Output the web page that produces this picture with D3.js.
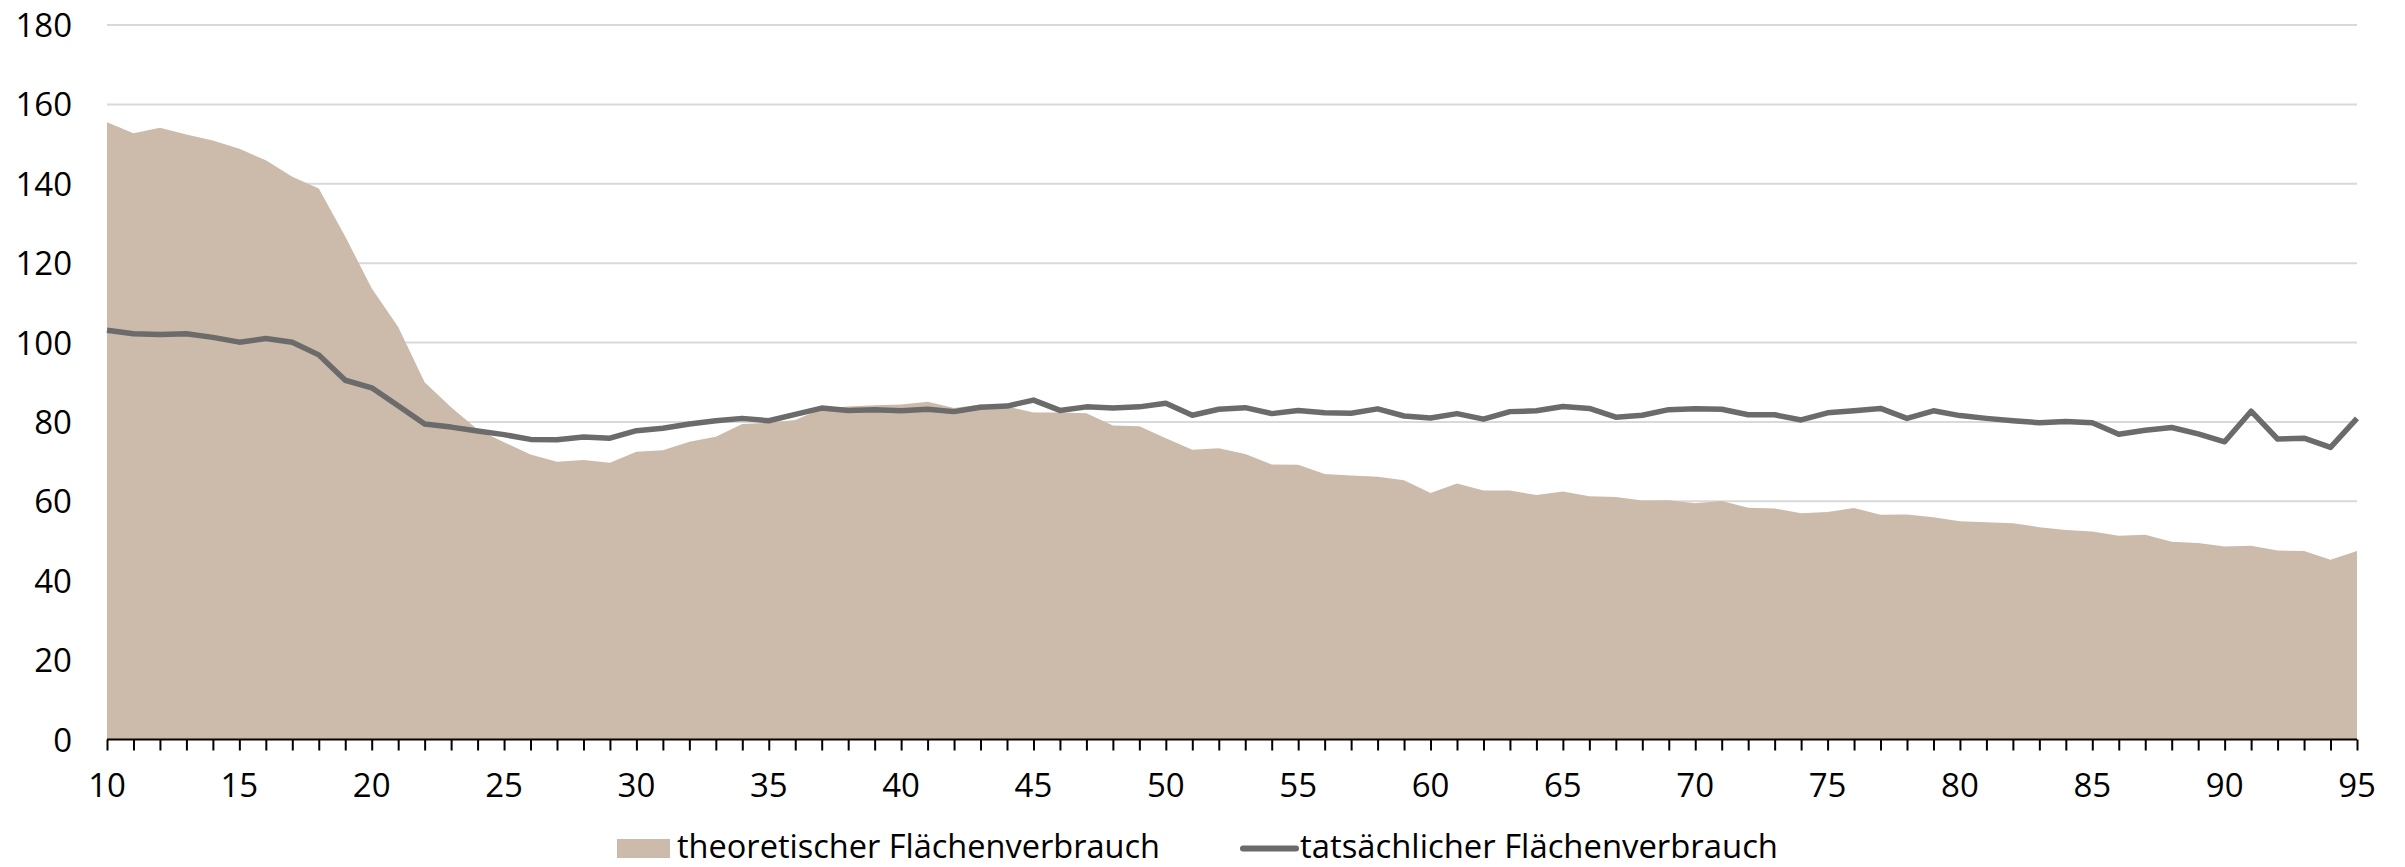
<!DOCTYPE html>
<html>
<head>
<meta charset="utf-8">
<script src="https://cdn.jsdelivr.net/npm/d3@7"></script>
<style>
  html, body { margin: 0; padding: 0; background: #ffffff; }
  svg { display: block; }
  text { font-family: "Open Sans", "Noto Sans", sans-serif; fill: #000; }
</style>
</head>
<body>
<svg id="chart" width="2405" height="867"></svg>
<script>
// ---- data ----
const ages = d3.range(10, 96);
const theoretisch = [
  155.5, 152.7, 154.1, 152.4, 150.9, 148.8, 145.9, 141.8, 138.8, 126.7,
  113.7, 103.9, 90.0, 83.7, 78.1, 74.9, 71.8, 70.0, 70.4, 69.7,
  72.5, 72.9, 75.0, 76.3, 79.5, 79.8, 80.5, 83.3, 83.9, 84.2,
  84.4, 85.1, 83.5, 84.4, 83.9, 82.4, 82.4, 82.2, 79.1, 78.9,
  75.9, 73.0, 73.4, 71.9, 69.3, 69.2, 66.9, 66.5, 66.2, 65.3,
  62.1, 64.5, 62.7, 62.7, 61.6, 62.5, 61.3, 61.1, 60.2, 60.3,
  59.5, 60.1, 58.4, 58.2, 57.0, 57.3, 58.3, 56.6, 56.7, 56.0,
  55.0, 54.7, 54.5, 53.5, 52.8, 52.4, 51.3, 51.6, 49.8, 49.5,
  48.6, 48.8, 47.6, 47.5, 45.3, 47.5
];
const tatsaechlich = [
  103.1, 102.2, 102.0, 102.2, 101.3, 100.1, 101.0, 100.1, 96.9, 90.5,
  88.6, 84.1, 79.5, 78.7, 77.7, 76.8, 75.6, 75.5, 76.2, 75.9,
  77.8, 78.4, 79.5, 80.3, 80.9, 80.3, 81.9, 83.5, 82.9, 83.1,
  82.8, 83.2, 82.6, 83.7, 84.0, 85.5, 82.9, 83.8, 83.5, 83.8,
  84.7, 81.7, 83.2, 83.6, 82.1, 82.9, 82.3, 82.2, 83.3, 81.5,
  81.0, 82.1, 80.7, 82.6, 82.8, 83.9, 83.4, 81.2, 81.7, 83.1,
  83.3, 83.2, 81.8, 81.8, 80.5, 82.3, 82.8, 83.4, 80.9, 82.8,
  81.6, 80.9, 80.3, 79.8, 80.1, 79.8, 76.9, 77.9, 78.6, 77.0,
  75.0, 82.7, 75.7, 75.9, 73.6, 80.9
];
const yTicks = [0, 20, 40, 60, 80, 100, 120, 140, 160, 180];
const xTickLabels = [10, 15, 20, 25, 30, 35, 40, 45, 50, 55, 60, 65, 70, 75, 80, 85, 90, 95];
const seriesNames = ["theoretischer Flächenverbrauch", "tatsächlicher Flächenverbrauch"];

// ---- layout ----
const mLeft = 107, mRight = 2357, mTop = 25, mBottom = 739.5;
const areaColor = "#ccbbaa", lineColor = "#6b6b6b";

const svg = d3.select("#chart");
const x = d3.scaleLinear().domain([10, 95]).range([mLeft, mRight]);
const y = d3.scaleLinear().domain([0, 180]).range([mBottom, mTop]);

// gridlines
svg.append("g")
  .selectAll("line")
  .data(yTicks.filter(d => d > 0))
  .join("line")
  .attr("x1", mLeft).attr("x2", mRight)
  .attr("y1", d => y(d)).attr("y2", d => y(d))
  .attr("stroke", "#d9d9d9").attr("stroke-width", 2);

// area
const series1 = ages.map((a, i) => ({ a, v: theoretisch[i] }));
const series2 = ages.map((a, i) => ({ a, v: tatsaechlich[i] }));
svg.append("path")
  .datum(series1)
  .attr("fill", areaColor)
  .attr("d", d3.area().x(d => x(d.a)).y0(y(0)).y1(d => y(d.v)));

// line
svg.append("path")
  .datum(series2)
  .attr("fill", "none")
  .attr("stroke", lineColor)
  .attr("stroke-width", 5.5)
  .attr("stroke-linejoin", "round")
  .attr("d", d3.line().x(d => x(d.a)).y(d => y(d.v)));

// x axis
const xAxis = svg.append("g").attr("transform", `translate(0,${mBottom})`)
  .call(d3.axisBottom(x).tickValues(ages).tickSize(11).tickFormat(""));
xAxis.select(".domain").attr("stroke", "#000").attr("stroke-width", 2).attr("d", `M${mLeft},0H${mRight}`);
xAxis.selectAll(".tick line").attr("stroke", "#000").attr("stroke-width", 2);

svg.append("g").selectAll("text")
  .data(xTickLabels)
  .join("text")
  .attr("x", d => x(d))
  .attr("y", 797)
  .attr("text-anchor", "middle")
  .attr("font-size", 33)
  .text(d => d);

// y labels
svg.append("g").selectAll("text")
  .data(yTicks)
  .join("text")
  .attr("x", 72)
  .attr("y", d => y(d) + 12)
  .attr("text-anchor", "end")
  .attr("font-size", 33)
  .text(d => d);

// legend
const legBase = 858;
const leg = svg.append("g");
leg.append("rect").attr("x", 617).attr("y", legBase - 19).attr("width", 53).attr("height", 19).attr("fill", areaColor);
leg.append("text").attr("x", 677).attr("y", legBase).attr("font-size", 32)
  .attr("textLength", 483).attr("lengthAdjust", "spacingAndGlyphs").text(seriesNames[0]);
leg.append("line").attr("x1", 1243).attr("x2", 1296).attr("y1", legBase - 9.5).attr("y2", legBase - 9.5)
  .attr("stroke", lineColor).attr("stroke-width", 6).attr("stroke-linecap", "round");
leg.append("text").attr("x", 1300).attr("y", legBase).attr("font-size", 32)
  .attr("textLength", 478).attr("lengthAdjust", "spacingAndGlyphs").text(seriesNames[1]);
</script>
</body>
</html>
